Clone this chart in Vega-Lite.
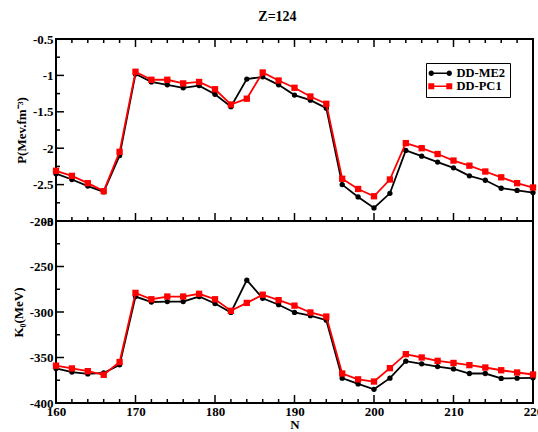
{
  "$schema": "https://vega.github.io/schema/vega-lite/v6.json",
  "background": "white",
  "padding": {"left": 11, "top": 10, "right": 0, "bottom": 0},
  "bounds": "flush",
  "title": {"text": "Z=124", "font": "Liberation Serif", "fontSize": 14, "fontWeight": "bold", "color": "black", "anchor": "middle", "offset": 8},
  "config": {
    "view": {"stroke": "black", "strokeWidth": 2},
    "axis": {
      "labelFont": "Liberation Serif", "labelFontSize": 13, "labelFontWeight": "bold", "labelColor": "black",
      "titleFont": "Liberation Serif", "titleFontSize": 13, "titleFontWeight": "bold", "titleColor": "black",
      "domain": false, "grid": false, "ticks": false,
      "labelFlush": false, "labelOverlap": false, "labelBound": false
    }
  },
  "spacing": 0,
  "datasets": {
    "d": [
      {"N": 160, "model": "DD-ME2", "P": -2.35, "K": -362},
      {"N": 162, "model": "DD-ME2", "P": -2.43, "K": -366},
      {"N": 164, "model": "DD-ME2", "P": -2.52, "K": -368},
      {"N": 166, "model": "DD-ME2", "P": -2.60, "K": -367},
      {"N": 168, "model": "DD-ME2", "P": -2.10, "K": -358},
      {"N": 170, "model": "DD-ME2", "P": -0.98, "K": -283},
      {"N": 172, "model": "DD-ME2", "P": -1.09, "K": -289},
      {"N": 174, "model": "DD-ME2", "P": -1.13, "K": -288.5},
      {"N": 176, "model": "DD-ME2", "P": -1.17, "K": -288.5},
      {"N": 178, "model": "DD-ME2", "P": -1.14, "K": -283},
      {"N": 180, "model": "DD-ME2", "P": -1.26, "K": -290.7},
      {"N": 182, "model": "DD-ME2", "P": -1.43, "K": -300.5},
      {"N": 184, "model": "DD-ME2", "P": -1.05, "K": -265},
      {"N": 186, "model": "DD-ME2", "P": -1.02, "K": -285},
      {"N": 188, "model": "DD-ME2", "P": -1.13, "K": -292},
      {"N": 190, "model": "DD-ME2", "P": -1.27, "K": -300.5},
      {"N": 192, "model": "DD-ME2", "P": -1.34, "K": -304},
      {"N": 194, "model": "DD-ME2", "P": -1.45, "K": -309},
      {"N": 196, "model": "DD-ME2", "P": -2.50, "K": -372.7},
      {"N": 198, "model": "DD-ME2", "P": -2.67, "K": -379},
      {"N": 200, "model": "DD-ME2", "P": -2.82, "K": -385},
      {"N": 202, "model": "DD-ME2", "P": -2.62, "K": -372.7},
      {"N": 204, "model": "DD-ME2", "P": -2.03, "K": -354},
      {"N": 206, "model": "DD-ME2", "P": -2.11, "K": -357},
      {"N": 208, "model": "DD-ME2", "P": -2.19, "K": -360},
      {"N": 210, "model": "DD-ME2", "P": -2.27, "K": -362.5},
      {"N": 212, "model": "DD-ME2", "P": -2.38, "K": -367.6},
      {"N": 214, "model": "DD-ME2", "P": -2.44, "K": -367.6},
      {"N": 216, "model": "DD-ME2", "P": -2.55, "K": -373},
      {"N": 218, "model": "DD-ME2", "P": -2.58, "K": -372.7},
      {"N": 220, "model": "DD-ME2", "P": -2.61, "K": -372.3},
      {"N": 160, "model": "DD-PC1", "P": -2.31, "K": -359},
      {"N": 162, "model": "DD-PC1", "P": -2.38, "K": -362},
      {"N": 164, "model": "DD-PC1", "P": -2.48, "K": -365},
      {"N": 166, "model": "DD-PC1", "P": -2.59, "K": -369},
      {"N": 168, "model": "DD-PC1", "P": -2.05, "K": -355},
      {"N": 170, "model": "DD-PC1", "P": -0.95, "K": -279},
      {"N": 172, "model": "DD-PC1", "P": -1.06, "K": -286},
      {"N": 174, "model": "DD-PC1", "P": -1.06, "K": -283},
      {"N": 176, "model": "DD-PC1", "P": -1.11, "K": -283},
      {"N": 178, "model": "DD-PC1", "P": -1.09, "K": -280},
      {"N": 180, "model": "DD-PC1", "P": -1.19, "K": -286},
      {"N": 182, "model": "DD-PC1", "P": -1.40, "K": -298.7},
      {"N": 184, "model": "DD-PC1", "P": -1.32, "K": -290},
      {"N": 186, "model": "DD-PC1", "P": -0.96, "K": -281},
      {"N": 188, "model": "DD-PC1", "P": -1.07, "K": -287},
      {"N": 190, "model": "DD-PC1", "P": -1.17, "K": -293},
      {"N": 192, "model": "DD-PC1", "P": -1.29, "K": -300.5},
      {"N": 194, "model": "DD-PC1", "P": -1.39, "K": -305},
      {"N": 196, "model": "DD-PC1", "P": -2.42, "K": -367.6},
      {"N": 198, "model": "DD-PC1", "P": -2.56, "K": -374},
      {"N": 200, "model": "DD-PC1", "P": -2.66, "K": -376.4},
      {"N": 202, "model": "DD-PC1", "P": -2.43, "K": -361.7},
      {"N": 204, "model": "DD-PC1", "P": -1.93, "K": -346.3},
      {"N": 206, "model": "DD-PC1", "P": -2.00, "K": -350},
      {"N": 208, "model": "DD-PC1", "P": -2.08, "K": -353.7},
      {"N": 210, "model": "DD-PC1", "P": -2.17, "K": -356},
      {"N": 212, "model": "DD-PC1", "P": -2.24, "K": -358.4},
      {"N": 214, "model": "DD-PC1", "P": -2.32, "K": -361},
      {"N": 216, "model": "DD-PC1", "P": -2.40, "K": -364},
      {"N": 218, "model": "DD-PC1", "P": -2.48, "K": -366.5},
      {"N": 220, "model": "DD-PC1", "P": -2.54, "K": -368.7}
    ]
  },
  "vconcat": [
    {
      "width": 477,
      "height": 182,
      "data": {"name": "d"},
      "resolve": {"axis": {"x": "independent", "y": "independent"}},
      "layer": [
        {
          "mark": {"type": "point", "filled": true, "opacity": 0},
          "encoding": {
            "x": {"field": "N", "type": "quantitative", "scale": {"domain": [160, 220], "nice": false, "zero": false}, "axis": null},
            "y": {"field": "P", "type": "quantitative", "scale": {"domain": [-3, -0.5], "nice": false, "zero": false},
              "axis": {"title": "P(Mev.fm⁻³)", "values": [-3, -2.5, -2, -1.5, -1, -0.5],
                "labelExpr": "'' + datum.value", "labelPadding": 3, "titlePadding": 4}},
            "color": {"field": "model", "type": "nominal", "scale": {"domain": ["DD-ME2", "DD-PC1"], "range": ["black", "#ff0000"]},
              "legend": {"title": null, "orient": "none", "legendX": 370, "legendY": 24, "direction": "vertical",
                "strokeColor": "black", "fillColor": "white", "padding": 4, "cornerRadius": 0, "rowPadding": 0,
                "labelFont": "Liberation Serif", "labelFontSize": 12.5, "labelFontWeight": "bold", "labelColor": "black",
                "symbolSize": 144, "symbolOpacity": 1, "symbolStrokeWidth": 0, "labelOffset": 14, "labelLimit": 200}},
            "shape": {"field": "model", "type": "nominal", "scale": {"domain": ["DD-ME2", "DD-PC1"],
              "range": [
                "M-0.83,-0.13H2.17V0.13H-0.83Z M-0.38,0A0.45,0.45 0 1,1 -1.28,0A0.45,0.45 0 1,1 -0.38,0Z M2.62,0A0.45,0.45 0 1,1 1.72,0A0.45,0.45 0 1,1 2.62,0Z",
                "M-0.83,-0.13H2.17V0.13H-0.83Z M-1.33,-0.5H-0.33V0.5H-1.33Z M1.67,-0.5H2.67V0.5H1.67Z"
              ]},
              "legend": {"title": null, "orient": "none", "legendX": 370, "legendY": 24, "direction": "vertical",
                "strokeColor": "black", "fillColor": "white", "padding": 4, "cornerRadius": 0, "rowPadding": 0,
                "labelFont": "Liberation Serif", "labelFontSize": 12.5, "labelFontWeight": "bold", "labelColor": "black",
                "symbolSize": 144, "symbolOpacity": 1, "symbolStrokeWidth": 0, "labelOffset": 14, "labelLimit": 200}}
          }
        },
        {
          "transform": [{"filter": "datum.model === 'DD-ME2' && datum.N % 10 === 0"}],
          "mark": {"type": "point", "shape": "M0,0V-1", "size": 256, "filled": false, "strokeWidth": 1.5, "color": "black", "opacity": 1},
          "encoding": {"x": {"field": "N", "type": "quantitative", "axis": null}, "y": {"datum": -3, "type": "quantitative", "axis": null}}
        },
        {
          "transform": [{"filter": "datum.model === 'DD-ME2' && datum.N % 10 !== 0"}],
          "mark": {"type": "point", "shape": "M0,0V-1", "size": 64, "filled": false, "strokeWidth": 1.5, "color": "black", "opacity": 1},
          "encoding": {"x": {"field": "N", "type": "quantitative", "axis": null}, "y": {"datum": -3, "type": "quantitative", "axis": null}}
        },
        {
          "transform": [{"filter": "datum.model === 'DD-ME2' && datum.N % 10 === 0"}],
          "mark": {"type": "point", "shape": "M0,0V1", "size": 256, "filled": false, "strokeWidth": 1.5, "color": "black", "opacity": 1},
          "encoding": {"x": {"field": "N", "type": "quantitative", "axis": null}, "y": {"datum": -0.5, "type": "quantitative", "axis": null}}
        },
        {
          "transform": [{"filter": "datum.model === 'DD-ME2' && datum.N % 10 !== 0"}],
          "mark": {"type": "point", "shape": "M0,0V1", "size": 64, "filled": false, "strokeWidth": 1.5, "color": "black", "opacity": 1},
          "encoding": {"x": {"field": "N", "type": "quantitative", "axis": null}, "y": {"datum": -0.5, "type": "quantitative", "axis": null}}
        },
        {"transform": [{"filter": "datum.model === 'DD-ME2' && datum.N === 160"}], "mark": {"type": "point", "shape": "M0,0H1", "size": 256, "filled": false, "strokeWidth": 1.5, "color": "black", "opacity": 1},
          "encoding": {"x": {"datum": 160, "type": "quantitative", "axis": null}, "y": {"datum": -2.5, "type": "quantitative", "axis": null}}},
        {"transform": [{"filter": "datum.model === 'DD-ME2' && datum.N === 160"}], "mark": {"type": "point", "shape": "M0,0H1", "size": 256, "filled": false, "strokeWidth": 1.5, "color": "black", "opacity": 1},
          "encoding": {"x": {"datum": 160, "type": "quantitative", "axis": null}, "y": {"datum": -2, "type": "quantitative", "axis": null}}},
        {"transform": [{"filter": "datum.model === 'DD-ME2' && datum.N === 160"}], "mark": {"type": "point", "shape": "M0,0H1", "size": 256, "filled": false, "strokeWidth": 1.5, "color": "black", "opacity": 1},
          "encoding": {"x": {"datum": 160, "type": "quantitative", "axis": null}, "y": {"datum": -1.5, "type": "quantitative", "axis": null}}},
        {"transform": [{"filter": "datum.model === 'DD-ME2' && datum.N === 160"}], "mark": {"type": "point", "shape": "M0,0H1", "size": 256, "filled": false, "strokeWidth": 1.5, "color": "black", "opacity": 1},
          "encoding": {"x": {"datum": 160, "type": "quantitative", "axis": null}, "y": {"datum": -1, "type": "quantitative", "axis": null}}},
        {"transform": [{"filter": "datum.model === 'DD-ME2' && datum.N === 160"}], "mark": {"type": "point", "shape": "M0,0H1", "size": 64, "filled": false, "strokeWidth": 1.5, "color": "black", "opacity": 1},
          "encoding": {"x": {"datum": 160, "type": "quantitative", "axis": null}, "y": {"datum": -2.75, "type": "quantitative", "axis": null}}},
        {"transform": [{"filter": "datum.model === 'DD-ME2' && datum.N === 160"}], "mark": {"type": "point", "shape": "M0,0H1", "size": 64, "filled": false, "strokeWidth": 1.5, "color": "black", "opacity": 1},
          "encoding": {"x": {"datum": 160, "type": "quantitative", "axis": null}, "y": {"datum": -2.25, "type": "quantitative", "axis": null}}},
        {"transform": [{"filter": "datum.model === 'DD-ME2' && datum.N === 160"}], "mark": {"type": "point", "shape": "M0,0H1", "size": 64, "filled": false, "strokeWidth": 1.5, "color": "black", "opacity": 1},
          "encoding": {"x": {"datum": 160, "type": "quantitative", "axis": null}, "y": {"datum": -1.75, "type": "quantitative", "axis": null}}},
        {"transform": [{"filter": "datum.model === 'DD-ME2' && datum.N === 160"}], "mark": {"type": "point", "shape": "M0,0H1", "size": 64, "filled": false, "strokeWidth": 1.5, "color": "black", "opacity": 1},
          "encoding": {"x": {"datum": 160, "type": "quantitative", "axis": null}, "y": {"datum": -1.25, "type": "quantitative", "axis": null}}},
        {"transform": [{"filter": "datum.model === 'DD-ME2' && datum.N === 160"}], "mark": {"type": "point", "shape": "M0,0H1", "size": 64, "filled": false, "strokeWidth": 1.5, "color": "black", "opacity": 1},
          "encoding": {"x": {"datum": 160, "type": "quantitative", "axis": null}, "y": {"datum": -0.75, "type": "quantitative", "axis": null}}},
        {
          "transform": [{"filter": "datum.model === 'DD-ME2'"}],
          "mark": {"type": "line", "color": "black", "strokeWidth": 1.8,
            "point": {"filled": true, "shape": "circle", "size": 28, "color": "black", "opacity": 1}},
          "encoding": {
            "x": {"field": "N", "type": "quantitative", "axis": null},
            "y": {"field": "P", "type": "quantitative", "axis": null}
          }
        },
        {
          "transform": [{"filter": "datum.model === 'DD-PC1'"}],
          "mark": {"type": "line", "color": "#ff0000", "strokeWidth": 1.8,
            "point": {"filled": true, "shape": "square", "size": 40, "color": "#ff0000", "opacity": 1}},
          "encoding": {
            "x": {"field": "N", "type": "quantitative", "axis": null},
            "y": {"field": "P", "type": "quantitative", "axis": null}
          }
        }
      ]
    },
    {
      "width": 477,
      "height": 182,
      "data": {"name": "d"},
      "resolve": {"axis": {"x": "independent", "y": "independent"}},
      "layer": [
        {
          "transform": [{"filter": "datum.model === 'DD-ME2' && datum.N % 10 === 0"}],
          "mark": {"type": "point", "shape": "M0,0V-1", "size": 256, "filled": false, "strokeWidth": 1.5, "color": "black", "opacity": 1},
          "encoding": {
            "x": {"field": "N", "type": "quantitative", "scale": {"domain": [160, 220], "nice": false, "zero": false},
              "axis": {"title": "N", "titlePadding": 0, "labelPadding": 2,
                "values": [160, 170, 180, 190, 200, 210, 220], "labelExpr": "'' + datum.value"}},
            "y": {"datum": -400, "type": "quantitative", "scale": {"domain": [-400, -200], "nice": false, "zero": false},
              "axis": {"title": "K₀(MeV)", "values": [-400, -350, -300, -250, -200],
                "labelExpr": "'' + datum.value", "labelPadding": 3, "titlePadding": 4}}
          }
        },
        {
          "transform": [{"filter": "datum.model === 'DD-ME2' && datum.N % 10 !== 0"}],
          "mark": {"type": "point", "shape": "M0,0V-1", "size": 64, "filled": false, "strokeWidth": 1.5, "color": "black", "opacity": 1},
          "encoding": {"x": {"field": "N", "type": "quantitative", "axis": null}, "y": {"datum": -400, "type": "quantitative", "axis": null}}
        },
        {"transform": [{"filter": "datum.model === 'DD-ME2' && datum.N === 160"}], "mark": {"type": "point", "shape": "M0,0H1", "size": 256, "filled": false, "strokeWidth": 1.5, "color": "black", "opacity": 1},
          "encoding": {"x": {"datum": 160, "type": "quantitative", "axis": null}, "y": {"datum": -350, "type": "quantitative", "axis": null}}},
        {"transform": [{"filter": "datum.model === 'DD-ME2' && datum.N === 160"}], "mark": {"type": "point", "shape": "M0,0H1", "size": 256, "filled": false, "strokeWidth": 1.5, "color": "black", "opacity": 1},
          "encoding": {"x": {"datum": 160, "type": "quantitative", "axis": null}, "y": {"datum": -300, "type": "quantitative", "axis": null}}},
        {"transform": [{"filter": "datum.model === 'DD-ME2' && datum.N === 160"}], "mark": {"type": "point", "shape": "M0,0H1", "size": 256, "filled": false, "strokeWidth": 1.5, "color": "black", "opacity": 1},
          "encoding": {"x": {"datum": 160, "type": "quantitative", "axis": null}, "y": {"datum": -250, "type": "quantitative", "axis": null}}},
        {"transform": [{"filter": "datum.model === 'DD-ME2' && datum.N === 160"}], "mark": {"type": "point", "shape": "M0,0H1", "size": 64, "filled": false, "strokeWidth": 1.5, "color": "black", "opacity": 1},
          "encoding": {"x": {"datum": 160, "type": "quantitative", "axis": null}, "y": {"datum": -375, "type": "quantitative", "axis": null}}},
        {"transform": [{"filter": "datum.model === 'DD-ME2' && datum.N === 160"}], "mark": {"type": "point", "shape": "M0,0H1", "size": 64, "filled": false, "strokeWidth": 1.5, "color": "black", "opacity": 1},
          "encoding": {"x": {"datum": 160, "type": "quantitative", "axis": null}, "y": {"datum": -325, "type": "quantitative", "axis": null}}},
        {"transform": [{"filter": "datum.model === 'DD-ME2' && datum.N === 160"}], "mark": {"type": "point", "shape": "M0,0H1", "size": 64, "filled": false, "strokeWidth": 1.5, "color": "black", "opacity": 1},
          "encoding": {"x": {"datum": 160, "type": "quantitative", "axis": null}, "y": {"datum": -275, "type": "quantitative", "axis": null}}},
        {"transform": [{"filter": "datum.model === 'DD-ME2' && datum.N === 160"}], "mark": {"type": "point", "shape": "M0,0H1", "size": 64, "filled": false, "strokeWidth": 1.5, "color": "black", "opacity": 1},
          "encoding": {"x": {"datum": 160, "type": "quantitative", "axis": null}, "y": {"datum": -225, "type": "quantitative", "axis": null}}},
        {
          "transform": [{"filter": "datum.model === 'DD-ME2'"}],
          "mark": {"type": "line", "color": "black", "strokeWidth": 1.8,
            "point": {"filled": true, "shape": "circle", "size": 28, "color": "black", "opacity": 1}},
          "encoding": {
            "x": {"field": "N", "type": "quantitative", "axis": null},
            "y": {"field": "K", "type": "quantitative", "axis": null}
          }
        },
        {
          "transform": [{"filter": "datum.model === 'DD-PC1'"}],
          "mark": {"type": "line", "color": "#ff0000", "strokeWidth": 1.8,
            "point": {"filled": true, "shape": "square", "size": 40, "color": "#ff0000", "opacity": 1}},
          "encoding": {
            "x": {"field": "N", "type": "quantitative", "axis": null},
            "y": {"field": "K", "type": "quantitative", "axis": null}
          }
        }
      ]
    }
  ]
}
